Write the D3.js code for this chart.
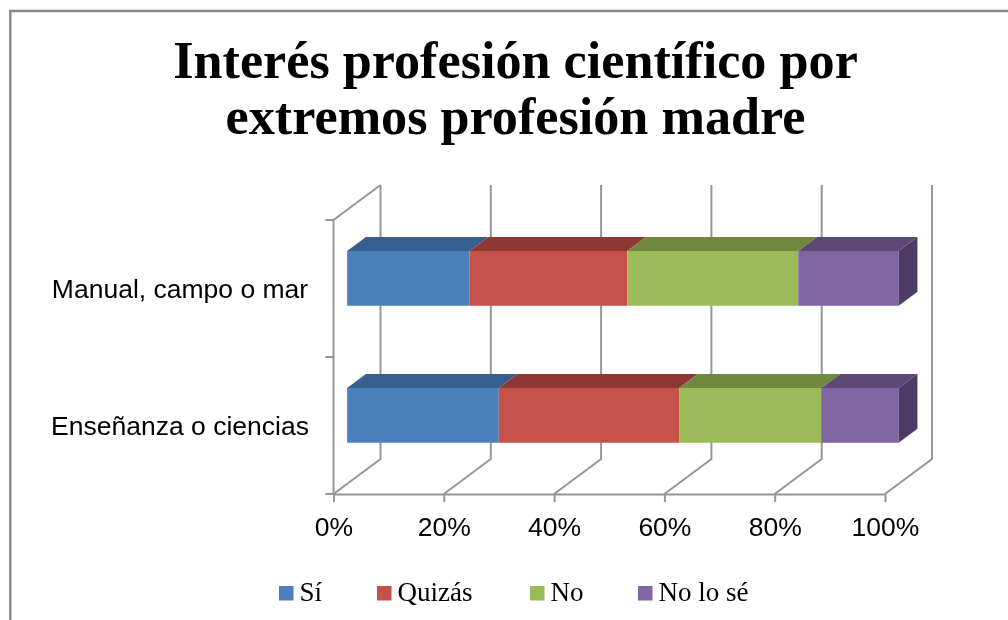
<!DOCTYPE html>
<html lang="es">
<head>
<meta charset="UTF-8">
<title>Interés profesión científico</title>
<script src="https://cdnjs.cloudflare.com/ajax/libs/d3/7.8.5/d3.min.js"></script>
<style>
    html, body { margin: 0; padding: 0; background: #fff; overflow: hidden; }
    svg { display: block; filter: blur(0.4px); }
</style>
</head>
<body>
<script>

    // values, in percent
    var categories = ["Enseñanza o ciencias", "Manual, campo o mar"];
    var seriesNames = ["Sí", "Quizás", "No", "No lo sé"];
    var si = [27.5, 22.2];
    var quizas = [32.7, 28.6];
    var no = [25.8, 31.0];
    var noLoSe = [14.0, 18.2];
    var xTicks = [0, 20, 40, 60, 80, 100];
    var titleLines = ["Interés profesión científico por", "extremos profesión madre"];

    var frontColors = ["#4A81BB", "#C4514A", "#9BBB59", "#8165A2"];
    var topColors = ["#355F8E", "#8E3733", "#71893F", "#5D4876"];
    var sideColor = "#4D3B63";
    var gridColor = "#969696";

    var width = 1008;
    var height = 620;
    var depthX = 47;
    var depthY = -35;
    var barFront = 0.29;
    var barBack = 0.69;

    var svg = d3.select("body").append("svg")
        .attr("width", width)
        .attr("height", height);

    var x = d3.scaleLinear().domain([0, 100]).range([333.5, 885]);
    var y = d3.scaleBand().domain(categories).range([494, 220])
        .paddingInner(0.6).paddingOuter(0.3);

    // the 3d box: a point is moved back by a fraction of the depth
    function px(v, d) { return x(v) + d * depthX; }
    function py(v, d) { return v + d * depthY; }
    function poly(points) { return points.map(function (p) { return p.join(","); }).join(" "); }

    // chart border, only top and left are in the picture
    svg.append("path")
        .attr("d", "M10.3," + height + "V11H" + width)
        .attr("fill", "none")
        .attr("stroke", "#8a8a8a")
        .attr("stroke-width", 2.4);

    titleLines.forEach(function (t, i) {
        svg.append("text")
            .attr("x", 515.5)
            .attr("y", 78 + i * 56)
            .attr("text-anchor", "middle")
            .attr("font-family", "Liberation Serif")
            .attr("font-weight", "bold")
            .attr("font-size", 52.2)
            .attr("fill", "#000")
            .text(t);
    });

    var grid = svg.append("g")
        .attr("fill", "none")
        .attr("stroke", gridColor)
        .attr("stroke-width", 2);

    var yTop = y.range()[1];
    var yBottom = y.range()[0];

    xTicks.forEach(function (t) {
        grid.append("path")
            .attr("d", d3.line()([
                [px(t, 0), yBottom],
                [px(t, 1), py(yBottom, 1)],
                [px(t, 1), py(yTop, 1)]
            ]));
    });

    // left wall with its category ticks
    grid.append("path")
        .attr("d", d3.line()([
            [px(0, 1), py(yTop, 1)],
            [px(0, 0), yTop],
            [px(0, 0), yBottom]
        ]));
    [yTop, yTop + y.step(), yBottom].forEach(function (v) {
        grid.append("line")
            .attr("x1", px(0, 0) - 8).attr("x2", px(0, 0))
            .attr("y1", v).attr("y2", v);
    });

    var xAxis = svg.append("g")
        .attr("transform", "translate(0," + yBottom + ")")
        .call(d3.axisBottom(x)
            .tickValues(xTicks)
            .tickSize(8)
            .tickSizeOuter(0)
            .tickPadding(15)
            .tickFormat(function (d) { return d + "%"; }));
    xAxis.selectAll("path, line").attr("stroke", gridColor).attr("stroke-width", 2);
    xAxis.selectAll("text")
        .attr("font-family", "Liberation Sans")
        .attr("font-size", 26.5)
        .attr("fill", "#000");

    var rows = categories.map(function (c, i) {
        return { category: c, "Sí": si[i], "Quizás": quizas[i], "No": no[i], "No lo sé": noLoSe[i] };
    });
    var stacked = d3.stack().keys(seriesNames)(rows);

    var bars = svg.append("g");

    stacked.forEach(function (layer, s) {
        layer.forEach(function (d) {
            var top = y(d.data.category);
            var bottom = top + y.bandwidth();

            bars.append("polygon")
                .attr("points", poly([
                    [px(d[0], barFront), py(top, barFront)],
                    [px(d[0], barBack), py(top, barBack)],
                    [px(d[1], barBack), py(top, barBack)],
                    [px(d[1], barFront), py(top, barFront)]
                ]))
                .attr("fill", topColors[s]);

            bars.append("polygon")
                .attr("points", poly([
                    [px(d[0], barFront), py(top, barFront)],
                    [px(d[1], barFront), py(top, barFront)],
                    [px(d[1], barFront), py(bottom, barFront)],
                    [px(d[0], barFront), py(bottom, barFront)]
                ]))
                .attr("fill", frontColors[s]);

            if (s === seriesNames.length - 1) {
                bars.append("polygon")
                    .attr("points", poly([
                        [px(d[1], barFront), py(top, barFront)],
                        [px(d[1], barBack), py(top, barBack)],
                        [px(d[1], barBack), py(bottom, barBack)],
                        [px(d[1], barFront), py(bottom, barFront)]
                    ]))
                    .attr("fill", sideColor);
            }
        });
    });

    categories.forEach(function (c) {
        svg.append("text")
            .attr("x", 180)
            .attr("y", y(c) + y.bandwidth() / 2 + 9.5)
            .attr("text-anchor", "middle")
            .attr("font-family", "Liberation Sans")
            .attr("font-size", 26.5)
            .attr("fill", "#000")
            .text(c);
    });

    // legend
    var legendX = [279, 377, 530, 638];
    var legend = svg.selectAll(".legendItem")
        .data(seriesNames)
        .enter()
        .append("g")
        .attr("class", "legendItem")
        .attr("transform", function (d, i) { return "translate(" + legendX[i] + ",586)"; });
    legend.append("rect")
        .attr("width", 14.5)
        .attr("height", 14.5)
        .attr("fill", function (d, i) { return frontColors[i]; });
    legend.append("text")
        .attr("x", 20.5)
        .attr("y", 15)
        .attr("font-family", "Liberation Serif")
        .attr("font-size", 27)
        .attr("fill", "#000")
        .text(function (d) { return d; });

</script>
</body>
</html>
